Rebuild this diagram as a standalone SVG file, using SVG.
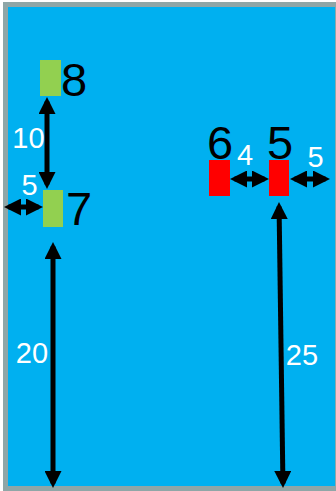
<svg xmlns="http://www.w3.org/2000/svg" width="336" height="491" viewBox="0 0 336 491">
<style>
.lbl{font-family:"Liberation Sans",Arial,sans-serif;font-size:29px;fill:#ffffff;text-anchor:middle}
.big{font-family:"Liberation Sans",Arial,sans-serif;font-size:47px;fill:#000000;text-anchor:middle}
.dim{stroke:#000;stroke-width:5;fill:none;marker-start:url(#ah);marker-end:url(#ah)}
.green{fill:#92d050}
.red{fill:#ff0000}
</style>
<defs>
<marker id="ah" markerUnits="userSpaceOnUse" markerWidth="17" markerHeight="17" refX="12.5" refY="8.5" orient="auto-start-reverse" viewBox="0 0 17 17">
<path d="M0,0 L17,8.5 L0,17 z" fill="#000"/>
</marker>
</defs>
<g id="frame">
<rect x="3" y="2" width="333" height="489" fill="#8fa6a7"/>
<rect x="8" y="7" width="327" height="479" fill="#00b0f0"/>
</g>
<g id="node8"><rect class="green" x="40" y="60" width="21" height="36"/><text class="big" x="74" y="96">8</text></g>
<g id="node7"><rect class="green" x="43" y="190" width="20" height="37"/><text class="big" x="79" y="225">7</text></g>
<g id="node6"><rect class="red" x="209" y="160" width="21" height="36"/><text class="big" x="220" y="159">6</text></g>
<g id="node5"><rect class="red" x="269" y="160" width="20" height="36"/><text class="big" x="280" y="159">5</text></g>
<g id="connectors">
<line class="dim" x1="47" y1="101.5" x2="47" y2="184.5"/>
<line class="dim" x1="8.5" y1="207" x2="38.5" y2="207"/>
<line class="dim" x1="53" y1="246.5" x2="53" y2="483.5"/>
<line class="dim" x1="234.5" y1="179" x2="264.5" y2="179"/>
<line class="dim" x1="294.5" y1="179" x2="325.5" y2="179"/>
<line class="dim" x1="279.06" y1="206.5" x2="282.94" y2="483.5"/>
<text class="lbl" x="28.5" y="148">10</text>
<text class="lbl" x="29.5" y="195">5</text>
<text class="lbl" x="32" y="363">20</text>
<text class="lbl" x="302" y="365">25</text>
<text class="lbl" x="245" y="165">4</text>
<text class="lbl" x="315.5" y="167">5</text>
</g>
</svg>
